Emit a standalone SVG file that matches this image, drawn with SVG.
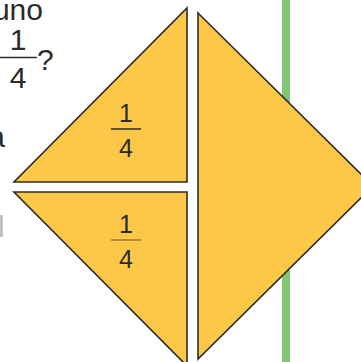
<svg xmlns="http://www.w3.org/2000/svg" width="361" height="362" viewBox="0 0 361 362">
  <style>
    .piece { fill: #fdc847; stroke: #2b2b2b; stroke-width: 1.6; stroke-linejoin: miter; }
    .t { font-family: "Liberation Sans", "DejaVu Sans", sans-serif; fill: #2b2b2b; }
    .frac { font-size: 25px; text-anchor: middle; }
    .big { font-size: 30px; }
    .bar { stroke: #2b2b2b; stroke-width: 1.5; }
  </style>
  <rect width="361" height="362" fill="#ffffff"/>
  <rect id="green-line" x="282" y="0" width="8" height="362" fill="#82c672"/>

  <g id="question">
    <text class="t big" x="43" y="20" text-anchor="end">uno</text>
    <text class="t big" x="18" y="50" text-anchor="middle">1</text>
    <line class="bar" x1="0" y1="57.5" x2="37" y2="57.5"/>
    <text class="t big" x="18" y="88" text-anchor="middle">4</text>
    <text class="t big" x="37" y="70">?</text>
    <text class="t big" x="5" y="147" text-anchor="end">a</text>
    <text class="t big" x="-2" y="237" style="fill:#bbbbbb">l</text>
  </g>

  <g id="piece-top-left">
    <path class="piece" d="M14,182 L187,182 L187,8 Z"/>
    <text class="t frac" x="126" y="122">1</text>
    <line class="bar" x1="111" y1="129" x2="141" y2="129"/>
    <text class="t frac" x="126" y="157">4</text>
  </g>

  <g id="piece-bottom-left">
    <path class="piece" d="M14,192 L187,192 L187,366 Z"/>
    <text class="t frac" x="126" y="233">1</text>
    <line x1="111" y1="240" x2="141" y2="240" stroke="#9a7a3a" stroke-width="1.5"/>
    <text class="t frac" x="126" y="268">4</text>
  </g>

  <g id="piece-right">
    <path class="piece" d="M198,13 L373,186 L198,359 Z"/>
  </g>
</svg>
